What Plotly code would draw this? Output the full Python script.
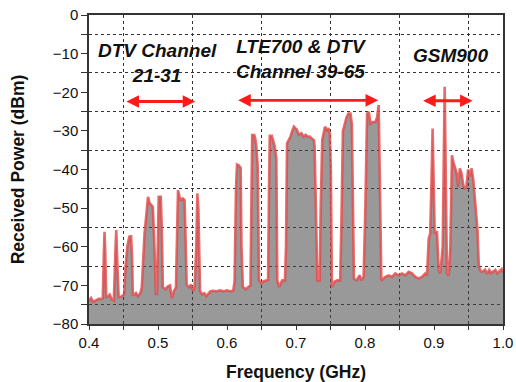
import plotly.graph_objects as go

# Spectrum trace (frequency in GHz, received power in dBm)
freq_ghz = [
    0.400, 0.403, 0.406, 0.410, 0.414, 0.418, 0.420, 0.4215, 0.4225, 0.4235, 0.425, 0.428,
    0.430, 0.433, 0.436, 0.4385, 0.4395, 0.441, 0.443, 0.447, 0.451, 0.453, 0.4555, 0.4584,
    0.461, 0.4625, 0.4635, 0.465, 0.468, 0.471, 0.4745, 0.4765, 0.4805, 0.4855, 0.488, 0.4905,
    0.4925, 0.4945, 0.497, 0.4985, 0.4995, 0.501, 0.504, 0.5055, 0.507, 0.511, 0.514, 0.5175,
    0.520, 0.523, 0.526, 0.5275, 0.529, 0.531, 0.533, 0.536, 0.5385, 0.540, 0.5415, 0.545,
    0.548, 0.551, 0.553, 0.5555, 0.557, 0.5585, 0.5595, 0.561, 0.564, 0.567, 0.570, 0.573,
    0.576, 0.580, 0.585, 0.590, 0.595, 0.600, 0.605, 0.609, 0.611, 0.613, 0.6145, 0.617,
    0.6198, 0.621, 0.623, 0.627, 0.631, 0.634, 0.6353, 0.6365, 0.6395, 0.641, 0.6425, 0.6445,
    0.6464, 0.650, 0.653, 0.656, 0.6595, 0.6609, 0.662, 0.665, 0.667, 0.669, 0.6715, 0.6729,
    0.6755, 0.680, 0.684, 0.6855, 0.687, 0.689, 0.692, 0.6945, 0.697, 0.699, 0.701, 0.704,
    0.708, 0.711, 0.714, 0.717, 0.720, 0.723, 0.726, 0.727, 0.729, 0.731, 0.733, 0.7343,
    0.7358, 0.738, 0.740, 0.742, 0.745, 0.747, 0.749, 0.7505, 0.752, 0.756, 0.760, 0.764,
    0.7657, 0.768, 0.7705, 0.773, 0.776, 0.779, 0.781, 0.7825, 0.784, 0.788, 0.792, 0.795,
    0.798, 0.8005, 0.803, 0.8055, 0.808, 0.811, 0.815, 0.8175, 0.8198, 0.8213, 0.8237, 0.8246,
    0.8294, 0.8343, 0.8391, 0.8439, 0.8488, 0.8536, 0.8584, 0.8632, 0.8681, 0.8729, 0.8777,
    0.8826, 0.8874, 0.8899, 0.8923, 0.8945, 0.8961, 0.898, 0.901, 0.9043, 0.9068, 0.9092,
    0.9126, 0.9155, 0.9188, 0.9213, 0.9237, 0.926, 0.928, 0.9305, 0.933, 0.935, 0.9375,
    0.940, 0.9425, 0.945, 0.947, 0.9495, 0.952, 0.9545, 0.957, 0.9594, 0.961, 0.963, 0.965,
    0.968, 0.971, 0.974, 0.977, 0.980, 0.983, 0.986, 0.989, 0.992, 0.995, 0.998, 1.000,
]
power_dbm = [
    -74.1, -73.3, -74.3, -73.9, -73.5, -73.5, -73.3, -62.0, -56.1, -61.0, -73.0, -72.8,
    -72.4, -73.6, -73.9, -60.0, -55.7, -64.0, -73.0, -72.9, -72.3, -65.2, -60.0, -57.4,
    -57.3, -63.0, -72.5, -72.5, -72.0, -72.8, -72.0, -70.5, -56.6, -47.1, -48.8, -49.2,
    -49.7, -58.0, -72.2, -72.2, -62.0, -47.1, -47.1, -55.0, -70.5, -71.0, -70.3, -70.0,
    -73.3, -71.5, -70.5, -60.0, -45.3, -47.0, -47.9, -47.5, -47.9, -58.0, -69.8, -70.5,
    -69.8, -71.5, -70.5, -60.0, -46.2, -50.0, -62.0, -71.5, -72.3, -72.0, -72.8, -72.2,
    -71.5, -71.4, -71.5, -71.3, -71.5, -71.3, -71.5, -71.4, -69.0, -45.0, -38.7, -38.9,
    -39.6, -60.0, -70.4, -71.0, -70.4, -70.0, -50.0, -31.1, -31.1, -32.0, -34.0, -39.2,
    -68.7, -69.5, -68.9, -68.7, -68.6, -45.0, -31.3, -31.3, -32.5, -34.0, -37.0, -68.7,
    -70.4, -68.7, -68.7, -60.0, -33.2, -32.4, -31.5, -30.0, -28.9, -29.3, -29.6, -31.0,
    -30.6, -31.5, -31.0, -31.5, -31.5, -32.0, -32.4, -34.0, -50.0, -68.7, -68.7, -68.7,
    -50.0, -32.4, -30.7, -28.9, -29.8, -29.3, -30.7, -40.0, -70.4, -69.0, -68.7, -68.7,
    -55.0, -30.0, -28.4, -26.6, -25.5, -25.5, -28.4, -43.0, -68.3, -68.7, -67.4, -68.7,
    -67.8, -50.0, -25.5, -25.1, -28.1, -27.7, -27.7, -26.5, -23.3, -40.0, -68.7, -68.6,
    -67.8, -67.4, -67.8, -66.9, -67.4, -66.9, -67.4, -66.5, -66.9, -67.8, -68.2, -67.8,
    -66.9, -67.4, -58.0, -56.6, -45.0, -29.4, -56.6, -56.0, -66.0, -66.9, -60.0,
    -18.6, -66.9, -67.4, -60.0, -36.3, -38.0, -39.3, -41.1, -44.5, -39.7, -41.1,
    -44.1, -45.1, -44.3, -40.0, -41.8, -39.7, -42.7, -47.9, -51.3, -55.6, -65.1, -66.4,
    -66.4, -65.9, -67.0, -66.0, -66.8, -66.4, -66.0, -66.9, -66.3, -65.8, -66.6, -66.6,
]

# Frequency bands marked with arrows and labels
band_labels = ["DTV Channel<br>21-31", "LTE700 & DTV<br>Channel 39-65", "GSM900"]
band_start = [0.452, 0.614, 0.882]
band_end = [0.554, 0.819, 0.956]
band_arrow_level = [-22.4, -22.1, -22.2]
label_x = [0.499, 0.707, 0.924]
label_y = [-12.3, -11.5, -10.4]

y_floor = -80

fig = go.Figure()
fig.add_trace(go.Scatter(
    x=[freq_ghz[0], freq_ghz[-1]], y=[y_floor, y_floor],
    mode="lines", line=dict(width=0), hoverinfo="skip", showlegend=False,
))
fig.add_trace(go.Scatter(
    x=freq_ghz, y=power_dbm, mode="lines",
    fill="tonexty", fillcolor="rgba(70,70,70,0.55)",
    line=dict(color="rgba(228,70,70,0.8)", width=2.6),
    showlegend=False,
))

annotations = []
for x0, x1, yl in zip(band_start, band_end, band_arrow_level):
    annotations.append(dict(
        x=x1, y=yl, ax=x0, ay=yl, xref="x", yref="y", axref="x", ayref="y",
        text="", showarrow=True, arrowside="end+start", arrowhead=2, startarrowhead=2,
        arrowsize=0.9, startarrowsize=0.9, arrowwidth=2.8, arrowcolor="#ff1a1a",
        standoff=0, startstandoff=0,
    ))
for txt, lx, ly in zip(band_labels, label_x, label_y):
    parts = txt.split("<br>")
    annotations.append(dict(
        x=lx, y=ly, xref="x", yref="y", showarrow=False,
        text="<br>".join(f"<b><i>{p}</i></b>" for p in parts),
        font=dict(family="Liberation Sans, Arial", size=19, color="#111"),
        xanchor="center", yanchor="middle", align="center",
    ))

grid_style = dict(showgrid=True, gridcolor="#333", griddash="dot", gridwidth=1)

fig.update_layout(
    width=516, height=382,
    margin=dict(l=89, r=13, t=15, b=58),
    paper_bgcolor="white", plot_bgcolor="white",
    font=dict(family="Liberation Sans, Arial", color="#111"),
    annotations=annotations,
    xaxis=dict(
        range=[0.4, 1.0], dtick=0.1, tickformat=".1f",
        showgrid=False, zeroline=False, automargin=False,
        showline=True, linecolor="#333", linewidth=1.5, mirror=True,
        ticks="outside", ticklen=4, tickcolor="#333",
        tickfont=dict(size=15),
        minor=dict(dtick=0.05, ticks="outside", ticklen=4, tickcolor="#333", **grid_style),
        title=dict(text="<b>Frequency (GHz)</b>", font=dict(size=17.5), standoff=22),
    ),
    yaxis=dict(
        range=[-80, 0], dtick=10,
        showgrid=False, zeroline=False, automargin=False,
        showline=True, linecolor="#333", linewidth=1.5, mirror=True,
        ticks="outside", ticklen=6, tickcolor="#333",
        tickfont=dict(size=15),
        minor=dict(dtick=5, ticks="outside", ticklen=6, tickcolor="#333", **grid_style),
        title=dict(text="<b>Received Power (dBm)</b>", font=dict(size=17.5), standoff=24),
    ),
)

fig.write_html(
    "out.html",
    config={"displayModeBar": False},
    post_script="document.body.style.margin='0px';document.body.style.overflow='hidden';",
)
